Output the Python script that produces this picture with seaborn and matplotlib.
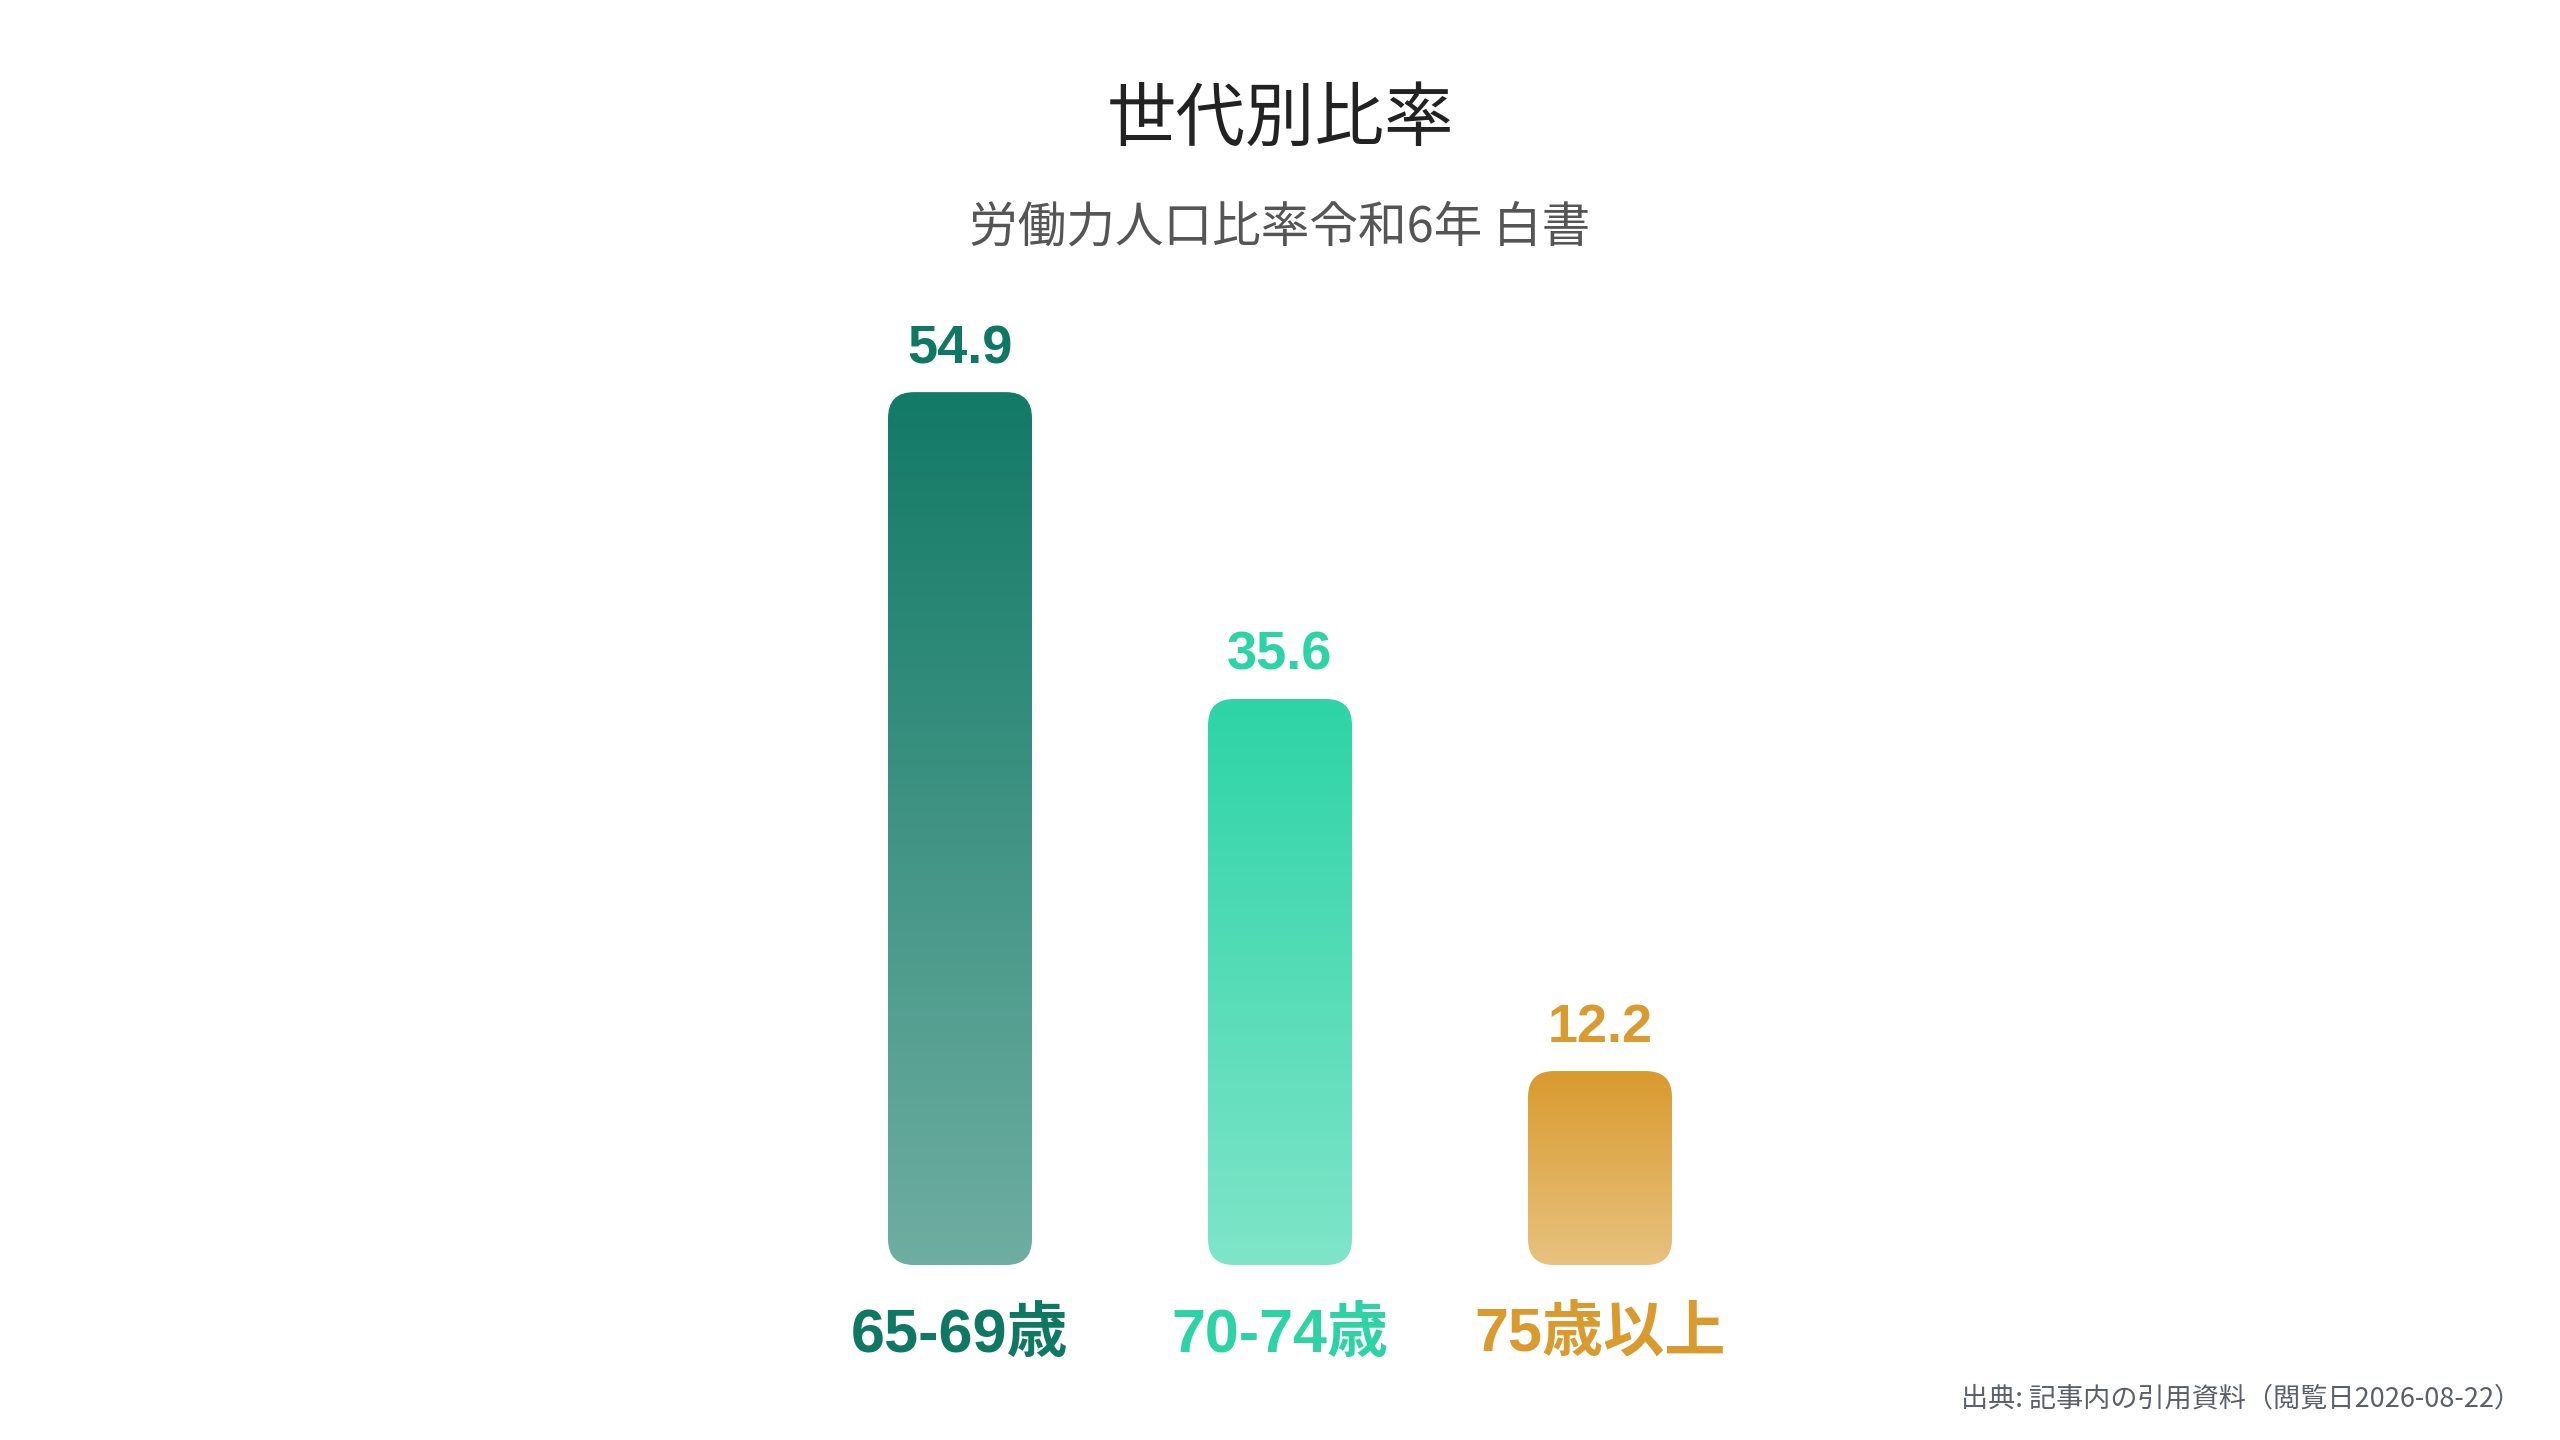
import numpy as np
import pandas as pd
import matplotlib
matplotlib.use('Agg')
import matplotlib.pyplot as plt
import seaborn as sns
from matplotlib.patches import FancyBboxPatch
from matplotlib.colors import to_rgb

# data
categories = ['65-69歳', '70-74歳', '75歳以上']
values = [54.9, 35.6, 12.2]
bar_colors = ['#127A66', '#2DD4A6', '#D99A2E']
label_colors = ['#0F7862', '#2ED3A5', '#D99A30']

title = '世代別比率'
subtitle = '労働力人口比率令和6年 白書'
source = '出典: 記事内の引用資料（閲覧日2026-08-22）'

sns.set_style('white')
plt.rcParams['font.family'] = ['Liberation Sans', 'Noto Sans CJK JP', 'DejaVu Sans']
LAT_CJK = ['Liberation Sans', 'Noto Sans CJK JP']
CJK = ['Noto Sans CJK JP', 'DejaVu Sans']

fig = plt.figure(figsize=(25.6, 14.4), dpi=100)
ax = fig.add_axes([0.25, 0.1215, 0.5, 0.6625])

df = pd.DataFrame({'cat': categories, 'val': values})
sns.barplot(data=df, x='cat', y='val', hue='cat', palette=bar_colors,
            width=0.45, legend=False, ax=ax)
ax.set_xlim(-1, 3)
ax.set_ylim(0, 60)
ax.axis('off')

# pixel scale for round corners
p0 = ax.transData.transform((0, 0))
p1 = ax.transData.transform((1, 1))
px_x = p1[0] - p0[0]
px_y = p1[1] - p0[1]
radius_px = 26
r_x = radius_px / px_x
m_aspect = px_x / px_y

for i, patch in enumerate(ax.patches[:len(values)]):
    x, w = patch.get_x(), patch.get_width()
    h = patch.get_height()
    patch.set_visible(False)
    box = FancyBboxPatch((x, 0), w, h,
                         boxstyle=f'round,pad=0,rounding_size={r_x}',
                         mutation_aspect=m_aspect,
                         facecolor='none', edgecolor='none', zorder=2)
    ax.add_patch(box)
    top = np.array(to_rgb(bar_colors[i]))
    bottom = top + 0.39 * (1 - top)
    t = np.linspace(0, 1, 256)[:, None]
    grad = top[None, :] * (1 - t) + bottom[None, :] * t
    grad = np.repeat(grad[:, None, :], 2, axis=1)
    im = ax.imshow(grad, extent=(x, x + w, 0, h), origin='upper',
                   aspect='auto', zorder=3, interpolation='bilinear')
    im.set_clip_path(box)

    ax.annotate(f'{values[i]:.1f}', (x + w / 2, h), xytext=(0, 43),
                textcoords='offset pixels', ha='center', va='center',
                fontsize=39, fontweight='bold', color=label_colors[i],
                family=LAT_CJK)
    ax.annotate(categories[i], (x + w / 2, 0), xytext=(0, -71),
                textcoords='offset pixels', ha='center', va='center',
                fontsize=44, fontweight='bold', color=label_colors[i],
                family=LAT_CJK, annotation_clip=False)

ax.set_xlim(-1, 3)
ax.set_ylim(0, 60)

fig.text(0.5, 0.9165, title, ha='center', va='center', fontsize=50,
         color='#222222', family=CJK)
fig.text(0.5, 0.842, subtitle, ha='center', va='center', fontsize=35,
         color='#555555', family=CJK)
fig.text(0.985, 0.0285, source, ha='right', va='center', fontsize=19.5,
         color='#5A5F68', family=CJK)

fig.savefig('out.png', dpi=100, facecolor='white')
